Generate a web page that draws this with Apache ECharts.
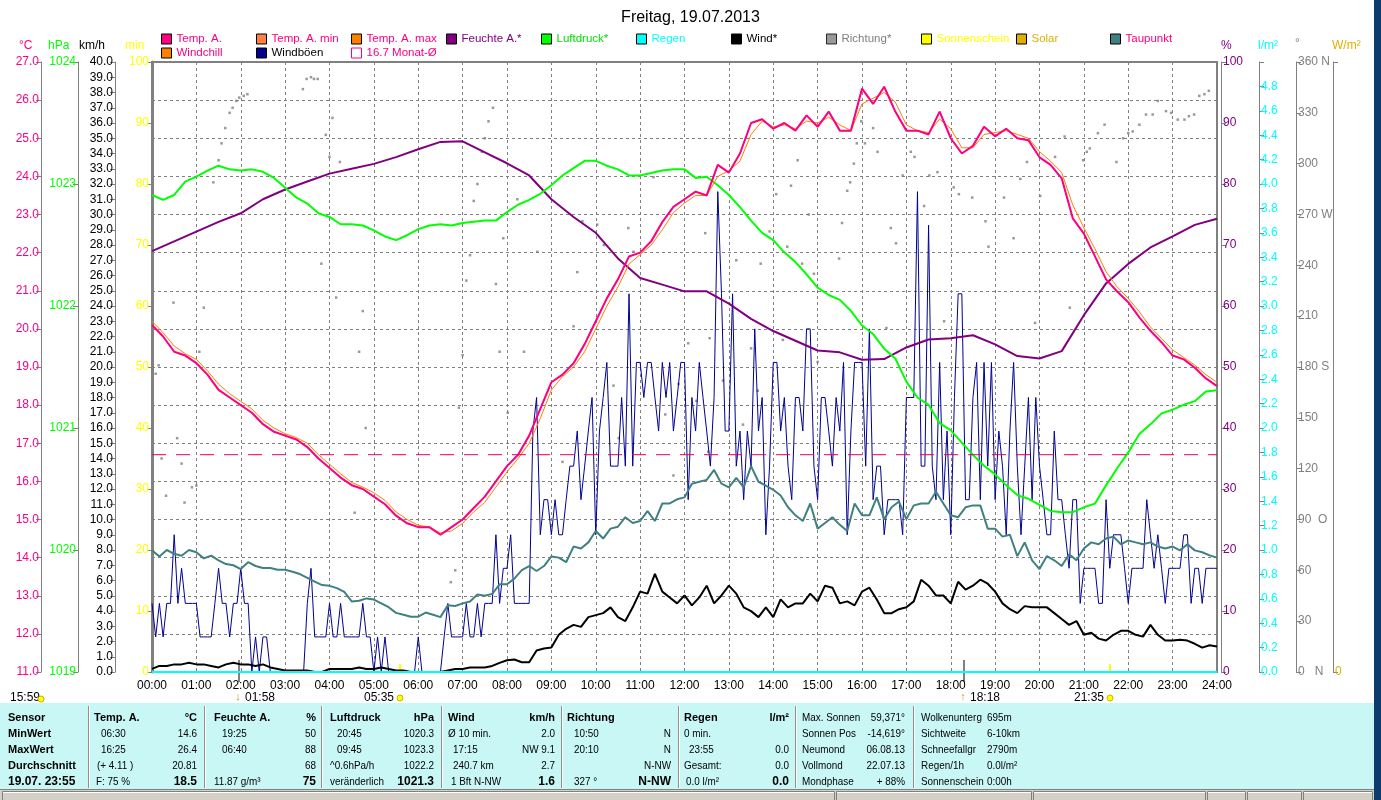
<!DOCTYPE html>
<html><head><meta charset="utf-8">
<script src="https://cdn.jsdelivr.net/npm/echarts@6/dist/echarts.min.js"></script>
<style>html,body{margin:0;padding:0;background:#fff;overflow:hidden}#c{width:1381px;height:800px}</style>
</head><body><div id="c"></div>
<script>
// ---------------- DATA ----------------
// Temp. A. (°C), every 15 min 00:00..24:00
const temp = [20.1,19.8,19.4,19.3, 19.1,18.8,18.4,18.2, 18.0,17.8,17.5,17.3, 17.2,17.1,16.9,16.6,
 16.35,16.1,15.9,15.8, 15.6,15.4,15.1,14.9, 14.8,14.8,14.6,14.8, 15.0,15.3,15.6,16.0,
 16.4,16.7,17.2,17.9, 18.6,18.8,19.1,19.6, 20.2,20.8,21.3,21.9, 22.0,22.3,22.8,23.2,
 23.4,23.6,23.5,24.3, 24.1,24.6,25.4,25.5, 25.25,25.4,25.2,25.6, 25.3,25.7,25.2,25.2,
 26.3,25.9,26.35,25.7, 25.2,25.2,25.1,25.7, 25.0,24.6,24.8,25.3, 25.05,25.25,25.0,24.95,
 24.5,24.3,23.95,22.9, 22.5,21.9,21.3,20.98, 20.7,20.3,19.95,19.65, 19.3,19.2,18.98,18.7, 18.5];
// Temp. A. max (thin orange line), every 15 min
const tempMax = [20.2,19.9,19.55,19.35, 19.2,18.9,18.55,18.3, 18.1,17.9,17.6,17.4, 17.25,17.15,17.0,16.7,
 16.45,16.2,15.97,15.85, 15.7,15.5,15.2,15.0, 14.85,14.8,14.65,14.7, 14.9,15.2,15.45,15.85,
 16.25,16.6,17.0,17.65, 18.4,18.75,19.0,19.4, 20.0,20.6,21.1,21.7, 21.95,22.2,22.6,23.05,
 23.3,23.5,23.5,24.0, 24.15,24.4,25.1,25.45, 25.3,25.35,25.25,25.45, 25.4,25.55,25.35,25.2,
 25.9,26.05,26.2,25.95, 25.35,25.2,25.15,25.5, 25.25,24.75,24.75,25.1, 25.15,25.2,25.1,25.0,
 24.65,24.4,24.1,23.25, 22.65,22.1,21.5,21.1, 20.8,20.45,20.05,19.75, 19.45,19.25,19.05,18.8, 18.6];
// Feuchte A. (%), every 30 min
const humidity = [69.0,70.6,72.2,73.8,75.2,77.5,79.1,80.4,81.7,82.5,83.3,84.4,85.7,86.9,87.0,85.2,
 83.4,81.4,77.5,74.6,72.0,67.8,64.6,63.5,62.4,62.4,60.4,57.9,55.9,54.3,52.7,52.4,
 51.2,51.3,53.2,54.5,54.7,55.2,53.7,51.8,51.4,52.6,58.5,63.7,66.9,69.6,71.4,73.3,74.3];
// Luftdruck (hPa), every 15 min
const pressure = [1022.91,1022.87,1022.91,1023.02, 1023.06,1023.11,1023.15,1023.12, 1023.11,1023.12,1023.10,1023.05,
 1022.97,1022.89,1022.84,1022.76, 1022.73,1022.67,1022.67,1022.66, 1022.62,1022.57,1022.54,1022.58,
 1022.63,1022.66,1022.67,1022.66, 1022.68,1022.69,1022.70,1022.70, 1022.77,1022.83,1022.87,1022.92,
 1022.99,1023.07,1023.13,1023.19, 1023.19,1023.15,1023.12,1023.07, 1023.07,1023.09,1023.11,1023.12,
 1023.12,1023.05,1023.06,1022.99, 1022.91,1022.81,1022.70,1022.60, 1022.54,1022.44,1022.36,1022.26,
 1022.15,1022.09,1022.05,1021.96, 1021.84,1021.77,1021.65,1021.57, 1021.38,1021.25,1021.19,1021.04,
 1020.98,1020.88,1020.78,1020.69, 1020.62,1020.53,1020.45,1020.42, 1020.37,1020.32,1020.31,1020.31,
 1020.35,1020.38,1020.53,1020.67, 1020.80,1020.95,1021.03,1021.12, 1021.15,1021.19,1021.22,1021.30, 1021.31];
// Taupunkt (°C), every 10 min
const dewPoint = [14.19,14.03,14.2,14.1,14.05,14.2, 14.14,13.98,14.05,13.93,13.83,13.8, 13.7,13.88,13.78,13.73,13.73,13.68,
 13.68,13.63,13.57,13.47,13.37,13.28, 13.26,13.2,13.1,12.85,12.87,12.93, 12.9,12.8,12.7,12.55,12.5,12.45,
 12.45,12.56,12.5,12.44,12.75,12.73, 12.8,12.85,13.03,13.0,13.05,13.3, 13.3,13.45,13.67,13.78,13.65,13.78,
 14.03,14.0,13.88,14.29,14.24,14.4, 14.7,14.5,14.76,14.81,15.06,14.91, 14.96,15.22,14.96,15.42,15.42,15.53,
 15.58,15.94,15.99,16.04,16.3,15.94, 15.84,16.09,15.84,16.4,15.99,15.89, 15.78,15.63,15.32,15.11,14.96,15.42,
 14.76,14.91,15.06,14.86,14.7,15.42, 15.11,15.11,15.58,15.01,15.32,15.47, 15.01,15.37,15.42,15.42,15.73,15.42,
 15.11,15.06,15.32,15.37,15.37,14.76, 14.76,14.55,14.6,14.04,14.4,13.93, 13.7,14.04,13.93,13.78,14.09,13.93,
 14.24,14.4,14.35,14.5,14.55,14.35, 14.45,14.4,14.35,14.4,14.29,14.24, 14.29,14.19,14.35,14.19,14.14,14.06, 14.0];
// Wind (km/h), every 10 min
const windMean = [0.2,0.4,0.4,0.5,0.5,0.6, 0.5,0.5,0.4,0.3,0.5,0.6, 0.5,0.5,0.4,0.5,0.3,0.2, 0.1,0.1,0.1,0.1,0.0,0.0,
 0.2,0.2,0.2,0.2,0.3,0.2, 0.2,0.3,0.2,0.1,0.1,0.0, 0.0,0.0,0.0,0.0,0.1,0.2, 0.2,0.3,0.3,0.3,0.4,0.6,
 0.77,0.82,0.64,0.64,1.41,1.54, 1.6,2.44,2.83,3.09,2.96,3.6, 3.73,3.86,4.24,3.6,3.34,4.24, 5.27,5.14,6.43,5.27,4.89,4.5,
 5.02,4.37,4.89,5.66,4.5,5.02, 5.66,5.14,4.24,3.99,3.6,4.24, 3.6,4.76,4.24,4.5,4.5,5.14, 4.63,5.66,5.53,4.5,4.63,4.37,
 5.27,5.53,4.76,3.86,3.86,4.12, 4.24,4.63,6.05,5.66,5.02,5.02, 4.5,5.92,5.4,5.66,6.05,5.79, 5.27,4.5,4.12,3.86,4.32,4.24,
 4.24,4.24,3.86,3.47,3.09,3.34, 2.44,2.57,2.19,2.06,2.44,2.7, 2.7,2.44,2.32,3.09,2.44,2.06, 2.06,2.11,2.06,1.85,1.6,1.75, 1.67];
// Windböen (km/h), every 5 min
const gusts = [
 4.5,2.3,4.5,2.3,4.5,4.5,9.0,4.5,6.8,4.5,4.5,4.5,
 4.5,2.3,2.3,2.3,2.3,4.5,6.8,4.5,4.5,2.3,4.5,4.5,
 6.8,4.5,4.5,0,2.3,0,2.3,2.3,0,0,0,0,
 0,0,0,0,0,0,4.5,6.8,2.3,2.3,2.3,2.3,
 4.5,2.3,2.3,4.5,2.3,2.3,2.3,2.3,2.3,4.5,2.3,2.3,
 0,2.3,0,2.3,0,0,0,0,0,0,0,0,
 2.3,0,0,0,0,0,0,2.3,4.5,2.3,2.3,2.3,
 2.3,4.5,2.3,2.3,4.5,2.3,4.5,4.5,4.5,9.0,4.5,6.8,
 6.8,9.0,4.5,4.5,4.5,4.5,4.5,15.8,18.0,9.0,11.3,11.3,
 9.0,11.3,9.0,9.0,11.3,13.5,13.5,15.8,11.3,13.5,15.8,18.0,
 9.0,15.8,18.0,20.3,13.5,13.5,13.5,18.0,13.5,24.8,13.5,20.3,
 20.3,18.0,20.3,20.3,18.0,15.8,20.3,18.0,20.3,15.8,18.0,20.3,
 20.3,11.3,18.0,15.8,20.3,18.0,15.8,13.5,18.0,31.5,24.8,15.8,
 15.8,24.8,13.5,15.8,11.3,15.8,13.5,22.5,15.8,18.0,9.0,13.5,
 20.3,20.3,15.8,18.0,13.5,11.3,18.0,18.0,15.8,22.5,22.5,13.5,
 11.3,18.0,18.0,15.8,13.5,18.0,15.8,20.3,9.0,15.8,20.3,20.3,
 20.3,13.5,22.5,11.3,13.5,13.5,9.0,11.3,11.3,11.3,11.3,9.0,
 18.0,18.0,18.0,31.5,13.5,13.5,29.3,13.5,11.3,20.3,11.3,15.8,
 9.0,18.0,24.8,24.8,11.3,11.3,18.0,20.3,11.3,20.3,13.5,20.3,
 11.3,15.8,13.5,9.0,15.8,20.3,13.5,9.0,13.5,18.0,11.3,18.0,
 13.5,11.3,9.0,9.0,15.8,11.3,11.3,9.0,6.8,11.3,11.3,4.5,
 6.8,6.8,6.8,6.8,4.5,4.5,11.3,6.8,9.0,9.0,9.0,6.8,
 4.5,6.8,6.8,6.8,6.8,11.3,9.0,6.8,9.0,6.8,4.5,6.8,
 6.8,6.8,6.8,9.0,9.0,4.5,6.8,6.8,4.5,6.8,6.8,6.8,
 6.8];
// Richtung (°): sample time in minutes and direction in degrees
const dirMinutes = [5,9,13,19,29,34,40,44,54,60,64,70,83,90,94,99,105,109,114,118,124,129,204,209,215,219,224,229,235,240,244,249,254,274,280,285,289,
 404,410,415,420,425,430,435,440,446,450,455,461,465,470,475,481,
 494,503,521,555,570,575,582,602,611,624,631,644,651,678,694,705,712,725,736,748,752,754,772,790,799,810,819,823,835,844,853,859,864,873,879,888,895,900,929,933,940,944,949,953,
 959,964,975,981,993,999,1006,1015,1026,1031,1044,1051,1062,1071,1084,1091,1109,1127,1131,1152,1165,1174,1183,1194,1201,1221,1234,1241,1259,1264,1268,1279,1288,1304,1313,1320,1326,1335,1344,1353,1360,1371,1378,1387,1396,1402,1409,1416,1423,1429];
const dirDegrees = [176,181,126,104,218,138,123,100,109,110,189,215,289,302,312,321,330,333,337,339,340,341,344,350,351,350,350,241,317,304,327,221,301,94,189,213,144,
 53,60,156,187,231,246,278,288,307,315,325,333,229,189,256,153,
 279,189,248,124,204,236,266,264,252,169,138,262,248,292,152,116,170,194,160,259,130,197,172,243,146,191,166,241,260,282,196,251,287,302,241,270,235,183,244,265,284,289,300,312,
 325,312,321,307,203,262,253,293,307,304,275,293,295,207,286,282,280,266,251,280,256,291,301,206,281,304,316,215,302,307,309,318,323,301,315,318,319,323,329,329,337,331,330,326,326,328,329,340,341,343];
const monthAvg = 16.7;           // 16.7 Monat-Ø
const rainDay = [0, 0];          // Regen l/m² at 00:00 and 24:00
const sunDay = [0, 0];           // Sonnenschein min
const solarDay = [0, 0];         // Solar W/m²
const hourLabels = ['00:00','01:00','02:00','03:00','04:00','05:00','06:00','07:00','08:00','09:00','10:00','11:00','12:00','13:00','14:00','15:00','16:00','17:00','18:00','19:00','20:00','21:00','22:00','23:00','24:00'];
const dirNames = {0:'0   N', 90:'90  O', 180:'180 S', 270:'270 W', 360:'360 N'};
const events = [ // time markers below the x axis
 {time:'01:58', kind:'moon', arrow:'↓'},
 {time:'05:35', kind:'sun'},
 {time:'18:18', kind:'moon', arrow:'↑'},
 {time:'21:35', kind:'sun'}
];
// table texts
const tblSensor = ['Sensor','MinWert','MaxWert','Durchschnitt','19.07. 23:55'];
const tblTemp = [['Temp. A.','°C'],['06:30','14.6'],['16:25','26.4'],['(+ 4.11 )','20.81'],['F: 75 %','18.5']];
const tblHum = [['Feuchte A.','%'],['19:25','50'],['06:40','88'],['','68'],['11.87 g/m³','75']];
const tblPress = [['Luftdruck','hPa'],['20:45','1020.3'],['09:45','1023.3'],['^0.6hPa/h','1022.2'],['veränderlich','1021.3']];
const tblWind = [['Wind','km/h'],['Ø 10 min.','2.0'],['17:15','NW 9.1'],['240.7 km','2.7'],['1 Bft N-NW','1.6']];
const tblDir = [['Richtung',''],['10:50','N'],['20:10','N'],['','N-NW'],['327 °','N-NW']];
const tblRain = [['Regen','l/m²'],['0 min.',''],['23:55','0.0'],['Gesamt:','0.0'],['0.0 l/m²','0.0']];
const tblSun = [['Max. Sonnen','59,371°'],['Sonnen Pos','-14,619°'],['Neumond','06.08.13'],['Vollmond','22.07.13'],['Mondphase','+ 88%']];
const tblCloud = [['Wolkenunterg','695m'],['Sichtweite','6-10km'],['Schneefallgr','2790m'],['Regen/1h','0.0l/m²'],['Sonnenschein','0:00h']];

// ---------------- BUILD ----------------
const FONT = 'Arial, "Liberation Sans", sans-serif';
const pairs = (arr, stepH) => arr.map((v, i) => [i * stepH, v]);
const flat = arr => [[0, arr[0]], [24, arr[1]]];
const toH = s => { const p = s.split(':'); return +p[0] + p[1] / 60; };
const dirData = dirMinutes.map((m, i) => [m / 60, dirDegrees[i]]);

const chart = echarts.init(document.getElementById('c'), null, {renderer: 'canvas'});

function yAx(o) {
  return Object.assign({
    type: 'value', alignTicks: false, scale: false,
    axisLine: {show: true, onZero: false, lineStyle: {color: '#808080', width: 1}},
    axisTick: {show: true, length: 5, lineStyle: {color: '#808080'}},
    splitLine: {show: false},
    axisLabel: {fontSize: 12, fontFamily: FONT, margin: 2}
  }, o);
}
function lg(name, left, top, txt, extra) {
  return Object.assign({
    data: [{name: name}], left: left, top: top, orient: 'horizontal',
    icon: 'rect', itemWidth: 10, itemHeight: 10, itemGap: 0, padding: 0,
    selectedMode: false,
    itemStyle: {borderColor: '#000', borderWidth: 1},
    textStyle: {color: txt, fontSize: 11.5, fontFamily: FONT}
  }, extra || {});
}
function line(name, yi, data, color, width, extra) {
  return Object.assign({
    name: name, type: 'line', yAxisIndex: yi, data: data, showSymbol: false, symbol: 'none',
    color: color, itemStyle: {color: color},
    lineStyle: {color: color, width: width}, silent: true, animation: false
  }, extra || {});
}

const option = {
  animation: false,
  backgroundColor: '#fff',
  title: {text: 'Freitag, 19.07.2013', left: 'center', top: 5,
    textStyle: {fontSize: 16, fontWeight: 'normal', color: '#000', fontFamily: FONT}},
  grid: {left: 152, right: 164, top: 62, bottom: 128, show: true, borderColor: '#808080', borderWidth: 2, backgroundColor: '#fff'},
  legend: [
    lg('Temp. A.', 161, 33, '#ff0080'),
    lg('Temp. A. min', 256, 33, '#ff0080'),
    lg('Temp. A. max', 351, 33, '#ff0080'),
    lg('Feuchte A.*', 446, 33, '#800080'),
    lg('Luftdruck*', 541, 33, '#00e000'),
    lg('Regen', 636, 33, '#00ffff'),
    lg('Wind*', 731, 33, '#000000'),
    lg('Richtung*', 826, 33, '#808080'),
    lg('Sonnenschein', 921, 33, '#ffff00'),
    lg('Solar', 1016, 33, '#e0b000'),
    lg('Taupunkt', 1110, 33, '#ff0080'),
    lg('Windchill', 161, 47, '#ff0080'),
    lg('Windböen', 256, 47, '#000000'),
    lg('16.7 Monat-Ø', 351, 47, '#ff0080', {itemStyle: {color: '#ffffff', borderColor: '#ff0080', borderWidth: 1}})
  ],
  xAxis: {
    type: 'value', min: 0, max: 24, interval: 1,
    axisLine: {show: false}, axisTick: {show: false},
    axisLabel: {formatter: v => hourLabels[Math.round(v)], color: '#000', fontSize: 12, fontFamily: FONT, margin: 8},
    splitLine: {show: true, lineStyle: {color: '#808080', type: [3, 3], width: 1}}
  },
  yAxis: [
    yAx({position: 'left', offset: 111, min: 11, max: 27, interval: 1,
      axisLabel: {color: '#ff0080', fontSize: 12, fontFamily: FONT, margin: 2, formatter: v => v.toFixed(1)},
      splitLine: {show: true, lineStyle: {color: '#808080', type: [3, 3], width: 1}}}),
    yAx({position: 'left', offset: 74, min: 1019, max: 1024, interval: 1,
      axisLabel: {color: '#00ff00', fontSize: 12, fontFamily: FONT, margin: 2, formatter: v => String(Math.round(v))}}),
    yAx({position: 'left', offset: 37, min: 0, max: 40, interval: 1,
      axisLabel: {color: '#000', fontSize: 12, fontFamily: FONT, margin: 2, formatter: v => v.toFixed(1)}}),
    yAx({position: 'left', offset: 0, min: 0, max: 100, interval: 10,
      axisLine: {show: true, onZero: false, lineStyle: {color: '#808080', width: 3}},
      axisLabel: {color: '#ffff00', fontSize: 12, fontFamily: FONT, margin: 3}}),
    yAx({position: 'right', offset: 4, min: 0, max: 100, interval: 10,
      axisLabel: {color: '#800080', fontSize: 12, fontFamily: FONT, margin: 2}}),
    yAx({position: 'right', offset: 42, min: 0, max: 5, interval: 0.2,
      axisLabel: {color: '#00ffff', fontSize: 12, fontFamily: FONT, margin: 2, formatter: v => v > 4.9 ? '' : v.toFixed(1)}}),
    yAx({position: 'right', offset: 79, min: 0, max: 360, interval: 30,
      axisLabel: {color: '#808080', fontSize: 12, fontFamily: FONT, margin: 2, formatter: v => dirNames[v] !== undefined ? dirNames[v] : String(v)}}),
    yAx({position: 'right', offset: 116, min: 0, max: 1000, interval: 1000,
      axisLabel: {color: '#e0b000', fontSize: 12, fontFamily: FONT, margin: 2, formatter: v => v === 0 ? '0' : ''}})
  ],
  series: [
    {name: 'Richtung*', type: 'scatter', yAxisIndex: 6, data: dirData, symbol: 'rect', symbolSize: 2.5,
      color: '#808080', itemStyle: {color: '#808080'}, silent: true, animation: false},
    line('Windböen', 2, pairs(gusts, 1 / 12), '#000090', 1),
    line('Taupunkt', 0, pairs(dewPoint, 1 / 6), '#408080', 2),
    line('Feuchte A.*', 4, pairs(humidity, 0.5), '#800080', 2),
    line('Luftdruck*', 1, pairs(pressure, 0.25), '#00ff00', 2),
    line('Wind*', 2, pairs(windMean, 1 / 6), '#000000', 2),
    line('Temp. A. min', 0, pairs(temp, 0.25), '#ff8040', 1),
    line('Windchill', 0, pairs(temp, 0.25), '#ff8000', 1),
    line('Temp. A. max', 0, pairs(tempMax, 0.25), '#ff8000', 1),
    line('Temp. A.', 0, pairs(temp, 0.25), '#ff0080', 2),
    line('16.7 Monat-Ø', 0, [[0, monthAvg], [24, monthAvg]], '#ff0080', 1,
      {lineStyle: {color: '#e0006a', width: 1, type: [14, 10]}}),
    line('Sonnenschein', 3, flat(sunDay), '#ffff00', 1),
    line('Solar', 7, flat(solarDay), '#e0b000', 1),
    line('Regen', 5, flat(rainDay), '#00ffff', 2)
  ]
};
chart.setOption(option);

// ---------------- GRAPHIC (units, markers, table) ----------------
const T = (text, x, y, fill, font, align, sx) => ({type: 'text', silent: true, x: x, y: y, scaleX: sx || 1,
  style: {text: text, x: 0, y: 0, fill: fill, font: font || ('12px ' + FONT),
  align: align || 'left', textAlign: align || 'left', verticalAlign: 'middle', textVerticalAlign: 'middle'}});
const R = (x, y, w, h, fill, stroke) => ({type: 'rect', silent: true, shape: {x: x, y: y, width: w, height: h},
  style: {fill: fill, stroke: stroke || null, lineWidth: 1}});
const L = (x1, y1, x2, y2, stroke, w) => ({type: 'line', silent: true, shape: {x1: x1, y1: y1, x2: x2, y2: y2},
  style: {stroke: stroke, lineWidth: w || 1}});

const g = [];
// unit labels above the axes
g.push(T('°C', 19, 46, '#ff0080'));
g.push(T('hPa', 48, 46, '#00ff00'));
g.push(T('km/h', 79, 46, '#000'));
g.push(T('min', 125, 46, '#ffff00'));
g.push(T('%', 1221, 46, '#800080'));
g.push(T('l/m²', 1258, 46, '#00ffff'));
g.push(T('°', 1295, 44, '#808080'));
g.push(T('W/m²', 1332, 46, '#e0b000'));

// event markers under the x axis
const yBase = chart.convertToPixel({yAxisIndex: 3}, 0);
events.forEach(ev => {
  const px = Math.round(chart.convertToPixel({xAxisIndex: 0}, toH(ev.time)));
  if (ev.kind === 'moon') {
    g.push(L(px, yBase - 12, px, yBase + 10, '#808080', 2));
    g.push(T(ev.arrow, px - 1, 697, '#c8a000', 'bold 11px ' + FONT, 'center'));
    g.push(T(ev.time, px + 6, 698, '#000', '12px ' + FONT));
  } else {
    g.push(L(px, yBase - 8, px, yBase + 1, '#ffff00', 2));
    g.push(T(ev.time, px - 6, 698, '#000', '12px ' + FONT, 'right'));
    g.push({type: 'circle', silent: true, shape: {cx: px, cy: 698, r: 3}, style: {fill: '#ffff00', stroke: '#d0b000', lineWidth: 1}});
  }
});
g.push(T('15:59', 10, 698, '#000', '12px ' + FONT));
g.push({type: 'circle', silent: true, shape: {cx: 41, cy: 699, r: 3}, style: {fill: '#ffff00', stroke: '#d0b000', lineWidth: 1}});

// table
const tTop = 703, tBot = 789;
g.push(R(0, tTop, 1374, tBot - tTop, '#c9f7f5'));
g.push(R(0, tBot, 1374, 800 - tBot, '#d4d0c8'));
g.push(L(0, tBot + 0.5, 1374, tBot + 0.5, '#808080'));
[[2, 834], [836, 1031], [1033, 1205], [1207, 1245], [1247, 1301], [1303, 1372]].forEach(p => {
  g.push(R(p[0] + 0.5, tBot + 2.5, p[1] - p[0], 12, null, '#808080'));
  g.push(L(p[0] + 1, tBot + 3.5, p[1], tBot + 3.5, '#ffffff'));
});
g.push(R(1374, 0, 7, 800, '#0d3b6e'));
[88, 204, 321, 441, 561, 678, 795, 913].forEach(x => {
  g.push(L(x + 0.5, 706, x + 0.5, 788, '#909090'));
  g.push(L(x + 1.5, 706, x + 1.5, 788, '#ffffff'));
});
const rowY = [718, 734, 750, 766, 782];
const fB = 'bold 11px ' + FONT, fN = '11px ' + FONT, fBig = 'bold 12px ' + FONT;
const SX = 0.9;
tblSensor.forEach((s, i) => g.push(T(s, 8, rowY[i], '#000', i === 4 ? fBig : fB)));
function col(rows, xl, xr, indent) {
  rows.forEach((r, i) => {
    const fl = i === 0 ? fB : fN;
    const fr = i === 0 ? fB : (i === 4 ? fBig : fN);
    const sl = i === 0 ? 1 : SX, sr = (i === 0 || i === 4) ? 1 : SX;
    if (r[0]) g.push(T(r[0], i === 0 ? xl : xl + indent[i], rowY[i], '#000', fl, 'left', sl));
    if (r[1]) g.push(T(r[1], xr, rowY[i], '#000', fr, 'right', sr));
  });
}
col(tblTemp, 94, 197, [0, 7, 7, 3, 2]);
col(tblHum, 214, 316, [0, 8, 8, 0, 0]);
col(tblPress, 330, 434, [0, 7, 7, 0, 0]);
col(tblWind, 448, 555, [0, 0, 5, 5, 3]);
col(tblDir, 567, 671, [0, 7, 7, 0, 7]);
col(tblRain, 684, 789, [0, 0, 5, 0, 2]);
tblSun.forEach((r, i) => { g.push(T(r[0], 802, rowY[i], '#000', fN, 'left', SX)); g.push(T(r[1], 905, rowY[i], '#000', fN, 'right', SX)); });
tblCloud.forEach((r, i) => { g.push(T(r[0], 921, rowY[i], '#000', fN, 'left', SX)); g.push(T(r[1], 987, rowY[i], '#000', fN, 'left', SX)); });

chart.setOption({graphic: {elements: g}});
</script>
</body></html>
